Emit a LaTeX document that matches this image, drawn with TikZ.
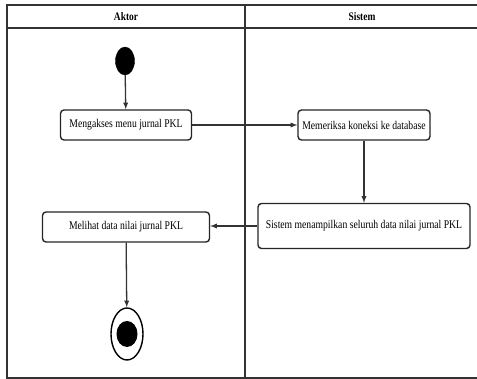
\documentclass[tikz,border=0pt]{standalone}
\usepackage{fontspec}
\setmainfont{Liberation Serif}
\newfontfamily\narrowserif[FakeStretch=0.82]{Liberation Serif}
\usetikzlibrary{arrows, shapes.geometric, calc, positioning}
\tikzset{
    lane/.style={draw=black!80, line width=1.6pt},
    laneTitle/.style={font=\narrowserif\bfseries\fontsize{11.5}{13}\selectfont},
    actBox/.style={rectangle, rounded corners=3.5pt, draw=black!85, line width=1.4pt, fill=white, inner sep=2pt, minimum height=30pt, font=\narrowserif\fontsize{11.8}{13}\selectfont},
    startNode/.style={ellipse, draw, fill=black, inner sep=0pt, minimum width=19pt, minimum height=28pt},
    endOuter/.style={ellipse, draw, line width=1.4pt, fill=white, inner sep=0pt, minimum width=32pt, minimum height=52pt},
    endInner/.style={ellipse, fill=black, inner sep=0pt, minimum width=21pt, minimum height=26pt},
    flowEdge/.style={->, >=latex, draw=black!80, line width=1.3pt},
}
\newcommand{\flowLink}[2]{
    \draw[flowEdge] (#1) -- (#2);
}

\begin{document}
\begin{tikzpicture}[x=1pt, y=-1pt]
        \useasboundingbox (0,0) rectangle (477,379);

        % swimlanes
        \draw[lane] (477,5) -- (7,5) -- (7,378) -- (477,378);
        \draw[lane] (7,28) -- (477,28);
        \draw[lane] (245,5) -- (245,378);
        \node[laneTitle] (aktor) at (126,17) {Aktor};
        \node[laneTitle] (sistem) at (362,17) {Sistem};

        % activities
        \node[startNode] (start) at (125,61) {};
        \node[actBox, minimum width=131pt] (akses) at (126,125) {Mengakses menu jurnal PKL};
        \node[actBox, minimum width=132pt] (periksa) at (364,125) {Memeriksa koneksi ke database};
        \node[actBox, minimum width=212pt, minimum height=45pt] (tampil) at (364,226) {Sistem menampilkan seluruh data nilai jurnal PKL};
        \node[actBox, minimum width=167pt] (lihat) at (126,227) {Melihat data nilai jurnal PKL};
        \node[endOuter] (selesai) at (127,334) {};
        \node[endInner] (selesaiDot) at (selesai.center) {};

        % flows
        \flowLink{start}{akses}
        \flowLink{akses}{periksa}
        \flowLink{periksa}{tampil}
        \draw[flowEdge] (tampil.west) -- (lihat.east |- tampil.west);
        \flowLink{lihat}{selesai}

    \end{tikzpicture}
\end{document}
